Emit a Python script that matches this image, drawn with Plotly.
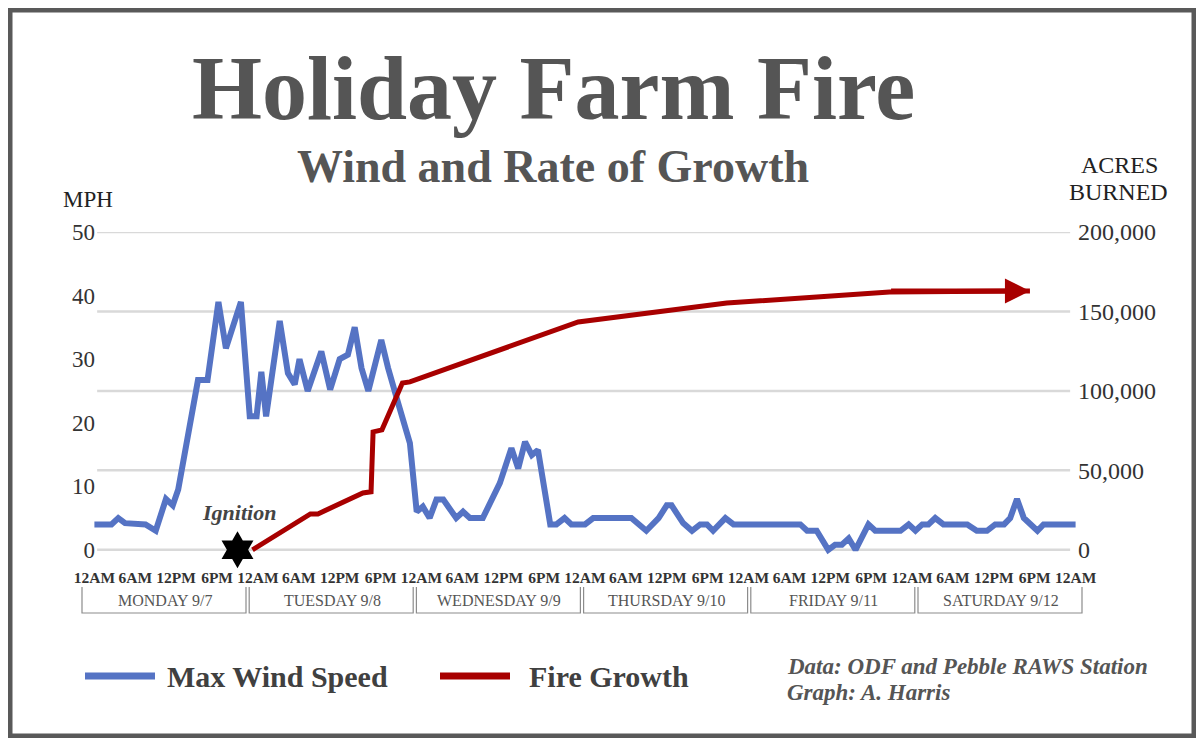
import plotly.graph_objects as go

# hours counted from 12AM Monday 9/7
wind_hours = [0, 2.5, 3.5, 4.5, 7.5, 9, 10.5, 11.5, 12.3, 13.5, 14, 15.2, 16.6, 18.2,
              19.3, 21.5, 22.8, 23.8, 24.5, 25.2, 27.2, 28.4, 29.4, 30.1, 31.3,
              33.3, 34.6, 36, 37.2, 38.2, 39.2, 40.2, 42.1, 43.1, 44.6, 46.3, 47.3,
              48.2, 49.2, 50.2, 51.2, 53.1, 54.1, 55.1, 57, 59.5, 61.2, 62.2, 63.2,
              64.2, 65.1, 66.9, 67.8, 69, 70, 72, 73.2, 78.8, 81, 82.8, 84, 84.7,
              86.4, 87.7, 88.9, 89.9, 90.8, 92.6, 93.8, 103.6, 104.6, 106, 107.7,
              108.7, 109.7, 110.7, 111.7, 113.6, 114.6, 118.3, 119.5, 120.5, 121.5,
              122.4, 123.4, 124.6, 128.1, 129.5, 131, 132.2, 133.5, 134.4, 135.4,
              136.4, 138.4, 139.3, 144]
wind_mph = [4, 4, 5, 4.2, 4, 3, 8, 7, 9.5, 17, 20, 26.7, 26.7, 39,
            31.7, 39, 21, 21, 28, 21, 36, 27.8, 26, 30, 25,
            31.2, 25.2, 30, 30.7, 35, 28.6, 25, 33, 28.6, 23, 16.8, 6,
            6.8, 5, 7.9, 7.9, 5, 6, 5, 5, 10.5, 16, 12.8, 17,
            14.9, 15.7, 4, 4, 5, 4, 4, 5, 5, 3, 5, 7, 7,
            4.2, 3, 4, 4, 3, 5, 4, 4, 3, 3, 0,
            0.8, 0.8, 1.8, 0, 4, 3, 3, 4, 3, 4,
            4, 5, 4, 4, 3, 3, 4, 4, 5, 8,
            5, 3, 4, 4]

growth_hours = [23.2, 31.7, 32.8, 39.4, 40.6, 40.9, 42.2, 45.2, 46.3, 71, 92.8, 116.7, 137.3]
growth_acres = [0, 22600, 22600, 35800, 36500, 74200, 75500, 105000, 105700,
                143400, 155300, 162200, 162900]

tick_hours = list(range(0, 145, 6))
tick_text = ["12AM", "6AM", "12PM", "6PM"] * 6 + ["12AM"]
day_names = ["MONDAY 9/7", "TUESDAY 9/8", "WEDNESDAY 9/9",
             "THURSDAY 9/10", "FRIDAY 9/11", "SATURDAY 9/12"]
ignition_hour = 21

mph_ticks = [0, 10, 20, 30, 40, 50]
acre_ticks = [0, 50000, 100000, 150000, 200000]

BLUE = "#5573C4"
RED = "#A80000"
SERIF = "Liberation Serif"

# the page body has an 8px margin, so the figure is drawn 8px in from the corner
OFF = 8
W, H = 1204 - OFF, 746 - 2 * OFF
# plot area, in page pixels
L, R, T, B = 91, 1079, 232, 560


def px(x):
    return (x - L) / (R - L)


def py(y):
    return (B - y) / (B - T)


fig = go.Figure()

fig.add_trace(
    go.Scatter(
        x=wind_hours, y=wind_mph, mode="lines",
        line=dict(color=BLUE, width=6),
        name="Max Wind Speed", yaxis="y",
    )
)
fig.add_trace(
    go.Scatter(
        x=growth_hours, y=growth_acres, mode="lines",
        line=dict(color=RED, width=5),
        name="Fire Growth", yaxis="y2",
    )
)
fig.add_trace(
    go.Scatter(
        x=[ignition_hour], y=[0], mode="markers",
        marker=dict(symbol="hexagram", size=28, color="black"),
        cliponaxis=False, yaxis="y", name="Ignition",
    )
)

shapes = []
# gridlines from the acres axis
for v in acre_ticks:
    shapes.append(dict(type="line", xref="x", yref="y2", x0=0.4, x1=143.2, y0=v, y1=v,
                       line=dict(color="#D9D9D9", width=2.5), layer="below"))

# day brackets under the hour labels (page pixels, they run past the plot edges)
yt, yb = py(587), py(613)
box_left = [82 + 167.2 * d for d in range(len(day_names))]
box_w = 164
for x0 in box_left:
    a, b = px(x0), px(x0 + box_w)
    shapes.append(dict(type="path", xref="paper", yref="paper",
                       path=f"M {a},{yt} L {a},{yb} L {b},{yb} L {b},{yt}",
                       line=dict(color="#8C8C8C", width=1.2)))

# legend swatches
shapes.append(dict(type="line", xref="paper", yref="paper", x0=px(85), x1=px(155),
                   y0=py(676), y1=py(676), line=dict(color=BLUE, width=7)))
shapes.append(dict(type="line", xref="paper", yref="paper", x0=px(440), x1=px(510),
                   y0=py(676), y1=py(676), line=dict(color=RED, width=7)))

# outer frame
shapes.append(dict(type="rect", xref="paper", yref="paper", x0=px(10), x1=px(1194),
                   y0=py(10), y1=py(736), line=dict(color="#595959", width=5)))

annotations = [
    dict(text="Holiday Farm Fire", x=px(553), y=py(88), font=dict(size=90, color="#555555", family=SERIF, weight="bold")),
    dict(text="Wind and Rate of Growth", x=px(553), y=py(166), font=dict(size=46, color="#555555", family=SERIF, weight="bold")),
    dict(text="MPH", x=px(88), y=py(200), font=dict(size=23, color="#222222", family=SERIF)),
    dict(text="ACRES", x=px(1119), y=py(165), font=dict(size=24, color="#222222", family=SERIF)),
    dict(text="BURNED", x=px(1118), y=py(192), font=dict(size=24, color="#222222", family=SERIF)),
    dict(text="Max Wind Speed", x=px(165), y=py(676), xanchor="left",
         font=dict(size=30, color="#404040", family=SERIF, weight="bold")),
    dict(text="Fire Growth", x=px(527), y=py(676), xanchor="left",
         font=dict(size=30, color="#404040", family=SERIF, weight="bold")),
    dict(text="Data: ODF and Pebble RAWS Station", x=px(785), y=py(666), xanchor="left",
         font=dict(size=23, color="#555555", family=SERIF, weight="bold", style="italic")),
    dict(text="Graph: A. Harris", x=px(785), y=py(692), xanchor="left",
         font=dict(size=23, color="#555555", family=SERIF, weight="bold", style="italic")),
]
for x0, name in zip(box_left, day_names):
    annotations.append(dict(text=name, x=px(x0 + box_w / 2 + 1), y=py(600),
                            font=dict(size=16, color="#555555", family=SERIF)))
for a in annotations:
    a.setdefault("xref", "paper")
    a.setdefault("yref", "paper")
    a.setdefault("xanchor", "center")
    a["yanchor"] = "middle"
    a["showarrow"] = False

annotations.append(dict(text="Ignition", xref="x", yref="y", x=ignition_hour + 0.2, y=5.9,
                        showarrow=False, yanchor="middle",
                        font=dict(size=22, color="#444444", family=SERIF, weight="bold", style="italic")))
# arrow head on the growth line
annotations.append(dict(text="", xref="x", yref="y2", axref="x", ayref="y2",
                        x=growth_hours[-1], y=growth_acres[-1],
                        ax=growth_hours[-2], ay=growth_acres[-2] + 600,
                        showarrow=True, arrowhead=2, arrowsize=1, arrowwidth=5,
                        arrowcolor=RED, standoff=0))

fig.update_layout(
    width=W, height=H,
    margin=dict(l=L - OFF, r=W - (R - OFF), t=T - OFF, b=H - (B - OFF)),
    plot_bgcolor="white", paper_bgcolor="white",
    showlegend=False,
    font=dict(family=SERIF, color="#333333"),
    xaxis=dict(range=[-0.5, 144.5], tickvals=tick_hours, ticktext=tick_text, tickangle=0,
               tickfont=dict(size=15.5, color="#333333", weight="bold"),
               showgrid=False, zeroline=False, showline=False, ticks="",
               ticklabelstandoff=6),
    yaxis=dict(range=[-1.6, 50], tickvals=mph_ticks, showgrid=False, zeroline=False,
               showline=False, ticks="", ticklabelstandoff=-5,
               tickfont=dict(size=23, color="#333333")),
    yaxis2=dict(range=[-6400, 200000], tickvals=acre_ticks, tickformat=",", overlaying="y",
                side="right", showgrid=False, zeroline=False, showline=False, ticks="",
                ticklabelstandoff=-2, tickfont=dict(size=24, color="#333333")),
    shapes=shapes,
    annotations=annotations,
)

fig.write_html("out.html")
